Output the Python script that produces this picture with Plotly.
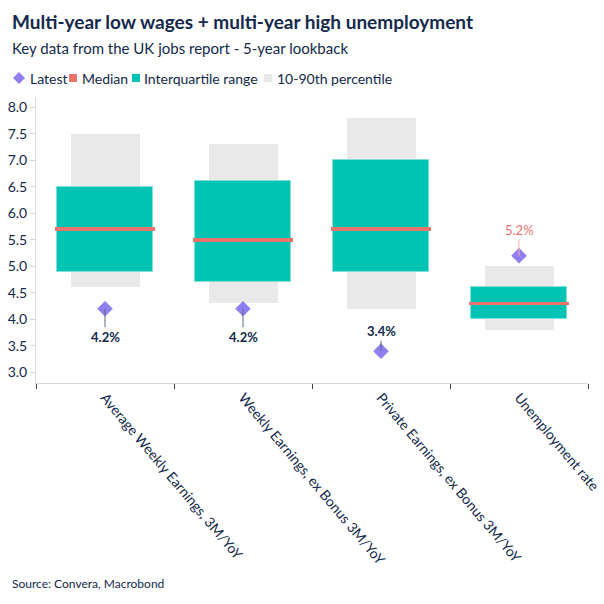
import plotly.graph_objects as go

categories = ["Average Weekly Earnings, 3M/YoY", "Weekly Earnings, ex Bonus 3M/YoY",
              "Private Earnings, ex Bonus 3M/YoY", "Unemployment rate"]
p10 = [4.6, 4.3, 4.2, 3.8]
p90 = [7.5, 7.3, 7.8, 5.0]
q25 = [4.9, 4.7, 4.9, 4.0]
q75 = [6.5, 6.6, 7.0, 4.6]
median = [5.7, 5.5, 5.7, 4.3]
latest = [4.2, 4.2, 3.4, 5.2]
latest_labels = ["4.2%", "4.2%", "3.4%", "5.2%"]
label_offsets = [28, 28, -20, -26]
label_colors = ["#13294b", "#13294b", "#13294b", "#e8736b"]
label_bold = [True, True, True, False]
legend_names = ["Latest", "Median", "Interquartile range", "10-90th percentile"]
legend_colors = ["#8f7ff0", "#e8736b", "#00c4b3", "#e9e9e9"]

NAVY = "#13294b"
FONT = "Lato"
PL, PT, PW, PH = 36, 97, 552, 286


def px(x):
    return (x - PL) / PW


def py(y):
    return 1 - (y - PT) / PH


fig = go.Figure()
fig.add_trace(go.Bar(x=categories, y=[b - a for a, b in zip(p10, p90)], base=p10, width=0.5,
                     marker=dict(color=legend_colors[3], line=dict(width=0)), name=legend_names[3],
                     hoverinfo="skip"))
fig.add_trace(go.Bar(x=categories, y=[b - a for a, b in zip(q25, q75)], base=q25, width=0.7,
                     marker=dict(color=legend_colors[2], line=dict(width=1, color="#7fe0d7")), name=legend_names[2],
                     hoverinfo="skip"))
fig.add_trace(go.Bar(x=categories, y=[0.07] * len(median), base=[m - 0.035 for m in median], width=0.72,
                     marker=dict(color=legend_colors[1], line=dict(width=0)), name=legend_names[1],
                     hoverinfo="skip"))
fig.add_trace(go.Scatter(x=categories, y=latest, mode="markers", name=legend_names[0],
                         marker=dict(symbol="diamond", size=12, color=legend_colors[0]),
                         hoverinfo="skip"))

for c, v, t, off, col, b in zip(categories, latest, latest_labels, label_offsets, label_colors, label_bold):
    fig.add_annotation(x=c, y=v, text=f"<b>{t}</b>" if b else t, showarrow=True, arrowhead=0,
                       arrowwidth=1, arrowcolor="#5a6a80" if b else "#f2b0ab", ax=0, ay=off,
                       font=dict(family=FONT, size=13, color=col), standoff=0, startstandoff=0)

fig.add_annotation(xref="paper", yref="paper", x=px(10), y=py(22), xanchor="left", yanchor="middle",
                   text="<b>Multi-year low wages + multi-year high unemployment</b>", showarrow=False,
                   font=dict(family=FONT, size=19, color=NAVY))
fig.add_annotation(xref="paper", yref="paper", x=px(10), y=py(48), xanchor="left", yanchor="middle",
                   text="Key data from the UK jobs report - 5-year lookback", showarrow=False,
                   font=dict(family=FONT, size=15, color=NAVY))
fig.add_annotation(xref="paper", yref="paper", x=px(10), y=py(583), xanchor="left", yanchor="middle",
                   text="Source: Convera, Macrobond", showarrow=False,
                   font=dict(family=FONT, size=12, color=NAVY))

# manual legend
LY = 78
sym_x = [19, 73, 136, 268]
txt_x = [28, 80, 142, 275]
fig.add_shape(type="path", xref="paper", yref="paper",
              path=f"M {px(sym_x[0]-6)},{py(LY)} L {px(sym_x[0])},{py(LY-6)} L {px(sym_x[0]+6)},{py(LY)} L {px(sym_x[0])},{py(LY+6)} Z",
              fillcolor=legend_colors[0], line=dict(width=0))
for i in range(1, 4):
    fig.add_shape(type="rect", xref="paper", yref="paper",
                  x0=px(sym_x[i] - 4), x1=px(sym_x[i] + 4), y0=py(LY + 4), y1=py(LY - 4),
                  fillcolor=legend_colors[i], line=dict(width=0))
for i in range(4):
    fig.add_annotation(xref="paper", yref="paper", x=px(txt_x[i]), y=py(LY), xanchor="left", yanchor="middle",
                       text=legend_names[i], showarrow=False, font=dict(family=FONT, size=14, color=NAVY))

fig.update_layout(
    width=604, height=604, barmode="overlay", bargap=0, showlegend=False,
    margin=dict(l=PL, r=604 - PL - PW, t=PT, b=604 - PT - PH),
    plot_bgcolor="white", paper_bgcolor="white",
    font=dict(family=FONT, color=NAVY),
    xaxis=dict(showline=True, linecolor="#d9d9d9", ticks="outside", tickson="boundaries", ticklen=5,
               tickcolor="#444", tickangle=50, tickfont=dict(family=FONT, size=14, color=NAVY),
               showgrid=False, automargin=False),
    yaxis=dict(range=[2.8, 8.19], dtick=0.5, tickformat=".1f", showline=True, linecolor="#d9d9d9",
               ticks="outside", ticklen=5, tickcolor="#d9d9d9", showgrid=False, zeroline=False,
               tickfont=dict(family=FONT, size=14, color=NAVY), automargin=False),
)

fig.write_html("out.html")
